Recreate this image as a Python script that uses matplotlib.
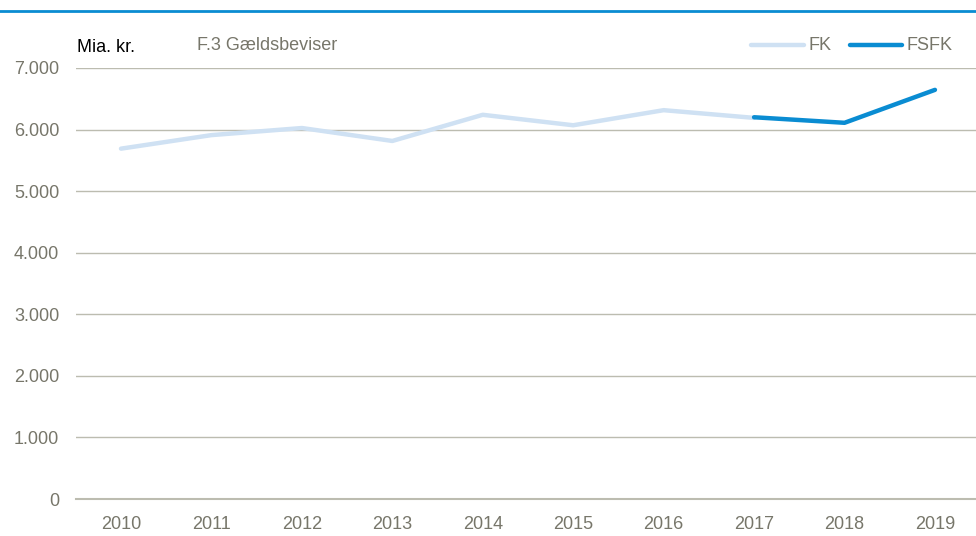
import matplotlib.pyplot as plt
from matplotlib.lines import Line2D
from matplotlib import font_manager

years = ["2010", "2011", "2012", "2013", "2014", "2015", "2016", "2017", "2018", "2019"]
fk = [5690, 5910, 6025, 5815, 6240, 6070, 6315, 6190]
fsfk_years = ["2017", "2018", "2019"]
fsfk = [6200, 6110, 6645]
yticks = [0, 1000, 2000, 3000, 4000, 5000, 6000, 7000]
ytick_labels = ["0", "1.000", "2.000", "3.000", "4.000", "5.000", "6.000", "7.000"]

names = {f.name for f in font_manager.fontManager.ttflist}
font = "Liberation Sans Narrow" if "Liberation Sans Narrow" in names else "Liberation Sans"
plt.rcParams["font.family"] = [font, "DejaVu Sans"]

grey = "#77766a"
fk_col = "#cfe1f3"
fsfk_col = "#0a8cd2"
grid_col = "#bcbcb0"

W, H = 976, 536
fig = plt.figure(figsize=(W / 100, H / 100), dpi=100)
x0 = 121 - 45.22
ax = fig.add_axes([x0 / W, (H - 499) / H, 904.4 / W, (499 - 68) / H])

xi = list(range(len(years)))
ax.plot(xi[:len(fk)], fk, color=fk_col, lw=3.2, solid_capstyle="round", solid_joinstyle="round")
ax.plot([years.index(y) for y in fsfk_years], fsfk, color=fsfk_col, lw=3.2,
        solid_capstyle="round", solid_joinstyle="round")

ax.set_xlim(-0.5, len(years) - 0.5)
ax.set_ylim(0, 7000)
ax.set_yticks(yticks)
ax.set_yticklabels(ytick_labels)
ax.set_xticks(xi)
ax.set_xticklabels(years)
ax.yaxis.grid(True, color=grid_col, lw=1)
ax.axhline(0, color=grid_col, lw=1.5, clip_on=False, zorder=0.5)
ax.set_axisbelow(True)
for s in ax.spines.values():
    s.set_visible(False)
ax.tick_params(length=0, labelsize=13, colors=grey)
ax.tick_params(axis="y", pad=12)
ax.tick_params(axis="x", pad=12)
for lbl in ax.get_xticklabels() + ax.get_yticklabels():
    lbl.set_color(grey)

# top rule
fig.add_artist(Line2D([0, 1], [1 - 11 / H, 1 - 11 / H], color="#0a8cd2", lw=2))

fig.text(77 / W, 1 - 47 / H, "Mia. kr.", fontsize=13, color="black", va="center", ha="left")
fig.text(197 / W, 1 - 45 / H, "F.3 Gældsbeviser", fontsize=13, color=grey, va="center", ha="left")

# legend
ly = 1 - 45 / H
fig.add_artist(Line2D([751 / W, 804 / W], [ly, ly], color=fk_col, lw=3.2, solid_capstyle="round"))
fig.text(809 / W, ly, "FK", fontsize=13, color=grey, va="center", ha="left")
fig.add_artist(Line2D([850 / W, 902 / W], [ly, ly], color=fsfk_col, lw=3.2, solid_capstyle="round"))
fig.text(907 / W, ly, "FSFK", fontsize=13, color=grey, va="center", ha="left")

fig.savefig("out.png", dpi=100)
